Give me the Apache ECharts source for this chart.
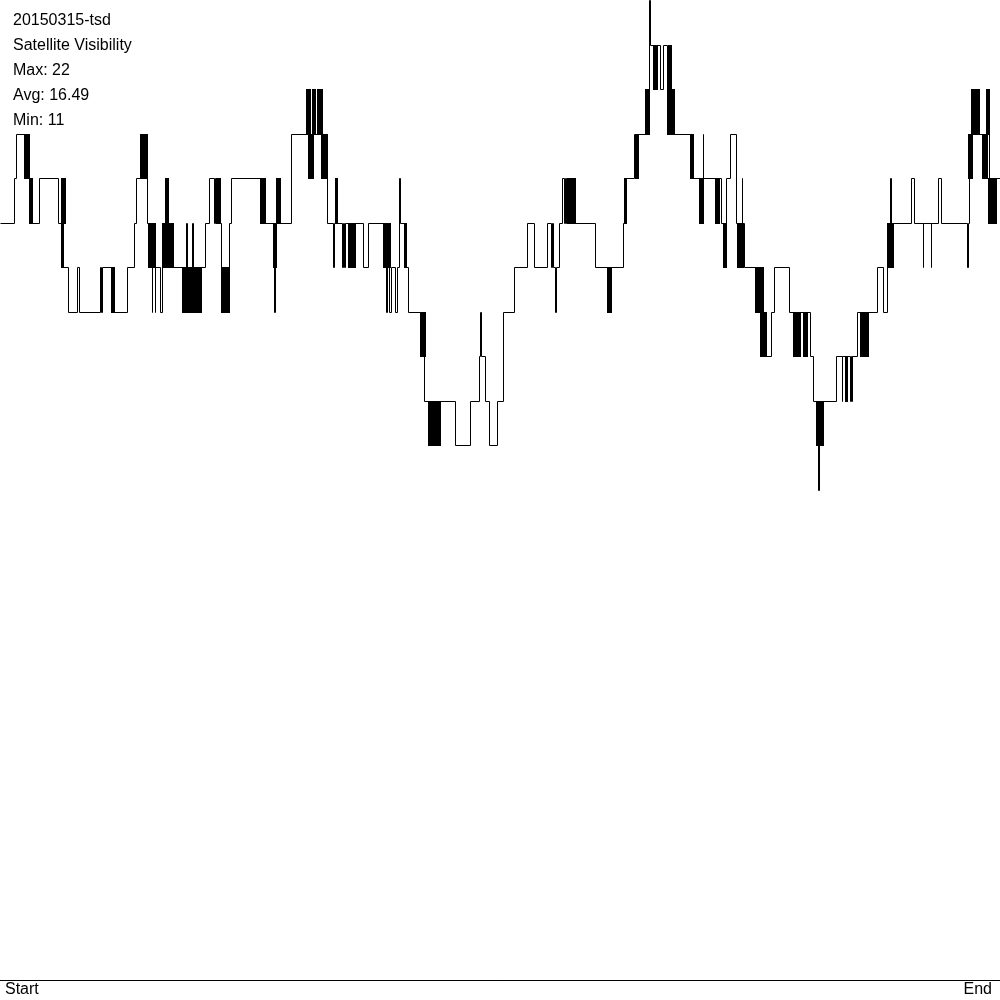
<!DOCTYPE html>
<html>
<head>
<meta charset="utf-8">
<script src="https://cdn.jsdelivr.net/npm/echarts@6/dist/echarts.min.js"></script>
<style>
  html, body { margin: 0; padding: 0; background: #fff; }
  #chart { width: 1000px; height: 1000px; }
</style>
</head>
<body>
<div id="chart"></div>
<script>
// 卫星可见数的变化点 [时间位置, 卫星数]，阶梯保持到下一个点
const visibility = [
  [0, 17], [14, 18], [15.7, 19], [28.7, 18], [31.7, 17], [39, 18], [58.3, 17], [63, 16],
  [68.3, 15], [77.3, 16], [79.3, 15], [100, 16], [101, 15], [102, 16], [114, 15], [127.3, 16],
  [134.3, 17], [135.7, 18], [147, 17], [151.5, 15], [152.3, 16], [154.5, 15], [155.3, 16],
  [160, 15], [161.5, 16], [186, 17], [186.6, 16], [192, 17], [192.6, 16], [205, 17], [209, 18],
  [214, 17], [214.6, 18], [220, 17], [220.7, 16], [229, 17], [230.7, 18], [265, 17], [274, 15],
  [274.6, 17], [290.7, 19], [326.7, 17], [333.3, 16], [334, 17], [342.3, 16], [343, 17],
  [344, 16], [344.7, 17], [363.3, 16], [367.7, 17], [382.7, 16], [386, 15], [387.3, 16],
  [389.3, 15], [390.7, 16], [395, 15], [396.7, 16], [399, 18], [400, 17], [405.7, 16],
  [408.3, 15], [420, 14], [424.3, 13], [455, 12], [470, 13], [479, 14], [480.3, 15], [480.9, 14],
  [485, 13], [489.3, 12], [497.3, 13], [503.3, 15], [514, 16], [527.3, 17], [534, 16],
  [547.3, 17], [550.7, 16], [552, 17], [553, 16], [555, 15], [555.6, 16], [559.3, 17],
  [562.3, 18], [564, 17], [565.3, 18], [566.3, 17], [567, 18], [575, 17], [595, 16],
  [622.7, 17], [625, 18], [634, 19], [645, 20], [649.3, 22], [649.9, 21], [660, 20], [663.3, 21],
  [666.7, 20], [674, 19], [693.3, 18], [702.7, 19], [703.3, 18], [721, 17], [726, 18], [730, 19],
  [736, 17], [741.7, 18], [742.3, 17], [744.3, 16], [760, 15], [766, 14], [771, 15], [774, 16],
  [789.3, 15], [810, 14], [813.3, 13], [818.3, 11], [818.9, 13], [836, 14], [841.7, 13],
  [842.3, 14], [850, 13], [850.6, 14], [851.7, 13], [852.3, 14], [856.7, 15], [877.3, 16],
  [882.7, 15], [886.7, 16], [888, 17], [890, 18], [890.6, 17], [910.7, 18], [914.3, 17],
  [922.7, 16], [923.3, 17], [930.7, 16], [931.3, 17], [938.3, 18], [940.7, 17], [967.3, 16],
  [967.9, 17], [968.5, 18], [969.5, 19], [979.3, 19], [988.7, 18], [1000, 18]
]

// 快速来回跳变的区段 [开始, 结束, 低值, 高值]
const flicker = [
  [24, 28.7, 18, 19], [28.7, 31.7, 17, 18], [61, 65, 17, 18], [61, 63, 16, 17],
  [111, 114, 15, 16], [140, 147, 18, 19], [148, 155, 16, 17], [162, 173, 16, 17],
  [165, 168, 17, 18], [182, 201, 15, 16], [216, 220, 17, 18], [221, 225, 15, 16],
  [226, 229, 15, 16], [260, 265, 17, 18], [272.7, 276, 16, 17], [276, 280, 17, 18],
  [306, 310, 19, 20], [311.7, 315, 19, 20], [316.7, 321.7, 19, 20], [308, 313, 18, 19],
  [320.7, 326.7, 18, 19], [335, 337.3, 17, 18], [348.3, 355, 16, 17], [382.7, 390, 16, 17],
  [404, 405.7, 16, 17], [420, 425, 14, 15], [428.3, 440, 12, 13], [567.3, 575, 17, 18],
  [607.3, 610.7, 15, 16], [623.5, 626, 17, 18], [635, 638.3, 18, 19], [645, 649.3, 19, 20],
  [653.3, 656.7, 20, 21], [668.3, 670.7, 20, 21], [666.7, 674, 19, 20], [690, 693.3, 18, 19],
  [699, 702.7, 17, 18], [715, 719.3, 17, 18], [722.7, 726, 16, 17], [736.7, 742.7, 16, 17],
  [755, 762.7, 15, 16], [760, 766, 14, 15], [792.7, 796.7, 14, 15], [798.3, 800, 14, 15],
  [803.3, 806.7, 14, 15], [816, 822.7, 12, 13], [845, 846.7, 13, 14], [860, 868.3, 14, 15],
  [887.3, 892.7, 16, 17], [968.3, 971.7, 18, 19], [970.7, 979.3, 19, 20], [981.7, 987.3, 18, 19],
  [986, 988.7, 19, 20], [988.3, 996, 17, 18]
]

const infoLines = ['20150315-tsd', 'Satellite Visibility', 'Max: 22', 'Avg: 16.49', 'Min: 11']
const axisEnds = ['Start', 'End']

const font = '16px "Liberation Sans", Arial, sans-serif'

// 折线自带的短线段合并会把窄台阶画成斜线，所以每个台阶单独画：[起点, 终点, 当前值, 下一个值]
const steps = []
for (let i = 0; i < visibility.length - 1; i++) {
  steps.push([visibility[i][0], visibility[i + 1][0], visibility[i][1], visibility[i + 1][1]])
}

// 对齐到像素中心，让 1px 线条清晰
const crisp = (p) => [Math.round(p[0]) + 0.5, Math.round(p[1]) + 0.5]

const chart = echarts.init(document.getElementById('chart'))

const graphic = infoLines.map((t, i) => ({
  type: 'text',
  left: 13,
  top: 13 + i * 25,
  style: { text: t, font: font, fill: '#000' }
}))
graphic.push({ type: 'text', left: 5, top: 982, style: { text: axisEnds[0], font: font, fill: '#000' } })
graphic.push({ type: 'text', right: 8, top: 982, style: { text: axisEnds[1], font: font, fill: '#000' } })

chart.setOption({
  backgroundColor: '#fff',
  animation: false,
  grid: { left: 0, right: 0, top: 0, bottom: 20 },
  xAxis: {
    type: 'value',
    min: 0,
    max: 1000,
    axisLine: { show: true, lineStyle: { color: '#000', width: 1 } },
    axisTick: { show: false },
    axisLabel: { show: false },
    splitLine: { show: false }
  },
  yAxis: {
    type: 'value',
    min: 0,
    max: 22,
    show: false,
    splitLine: { show: false }
  },
  graphic: graphic,
  series: [
    {
      type: 'custom',
      data: steps,
      encode: { x: [0, 1], y: [2, 3] },
      renderItem: (params, api) => {
        const a = crisp(api.coord([api.value(0), api.value(2)]))
        const b = crisp(api.coord([api.value(1), api.value(2)]))
        const c = crisp(api.coord([api.value(1), api.value(3)]))
        return {
          type: 'polyline',
          shape: { points: [a, b, c] },
          style: { stroke: '#000', lineWidth: 1, fill: null }
        }
      },
      z: 3
    },
    {
      type: 'custom',
      data: flicker,
      encode: { x: [0, 1], y: [2, 3] },
      renderItem: (params, api) => {
        const p0 = crisp(api.coord([api.value(0), api.value(3)]))
        const p1 = crisp(api.coord([api.value(1), api.value(2)]))
        return {
          type: 'rect',
          shape: { x: p0[0] - 0.5, y: p0[1] - 0.5, width: p1[0] - p0[0] + 1, height: p1[1] - p0[1] + 1 },
          style: { fill: '#000' }
        }
      },
      z: 2
    }
  ]
})
</script>
</body>
</html>
